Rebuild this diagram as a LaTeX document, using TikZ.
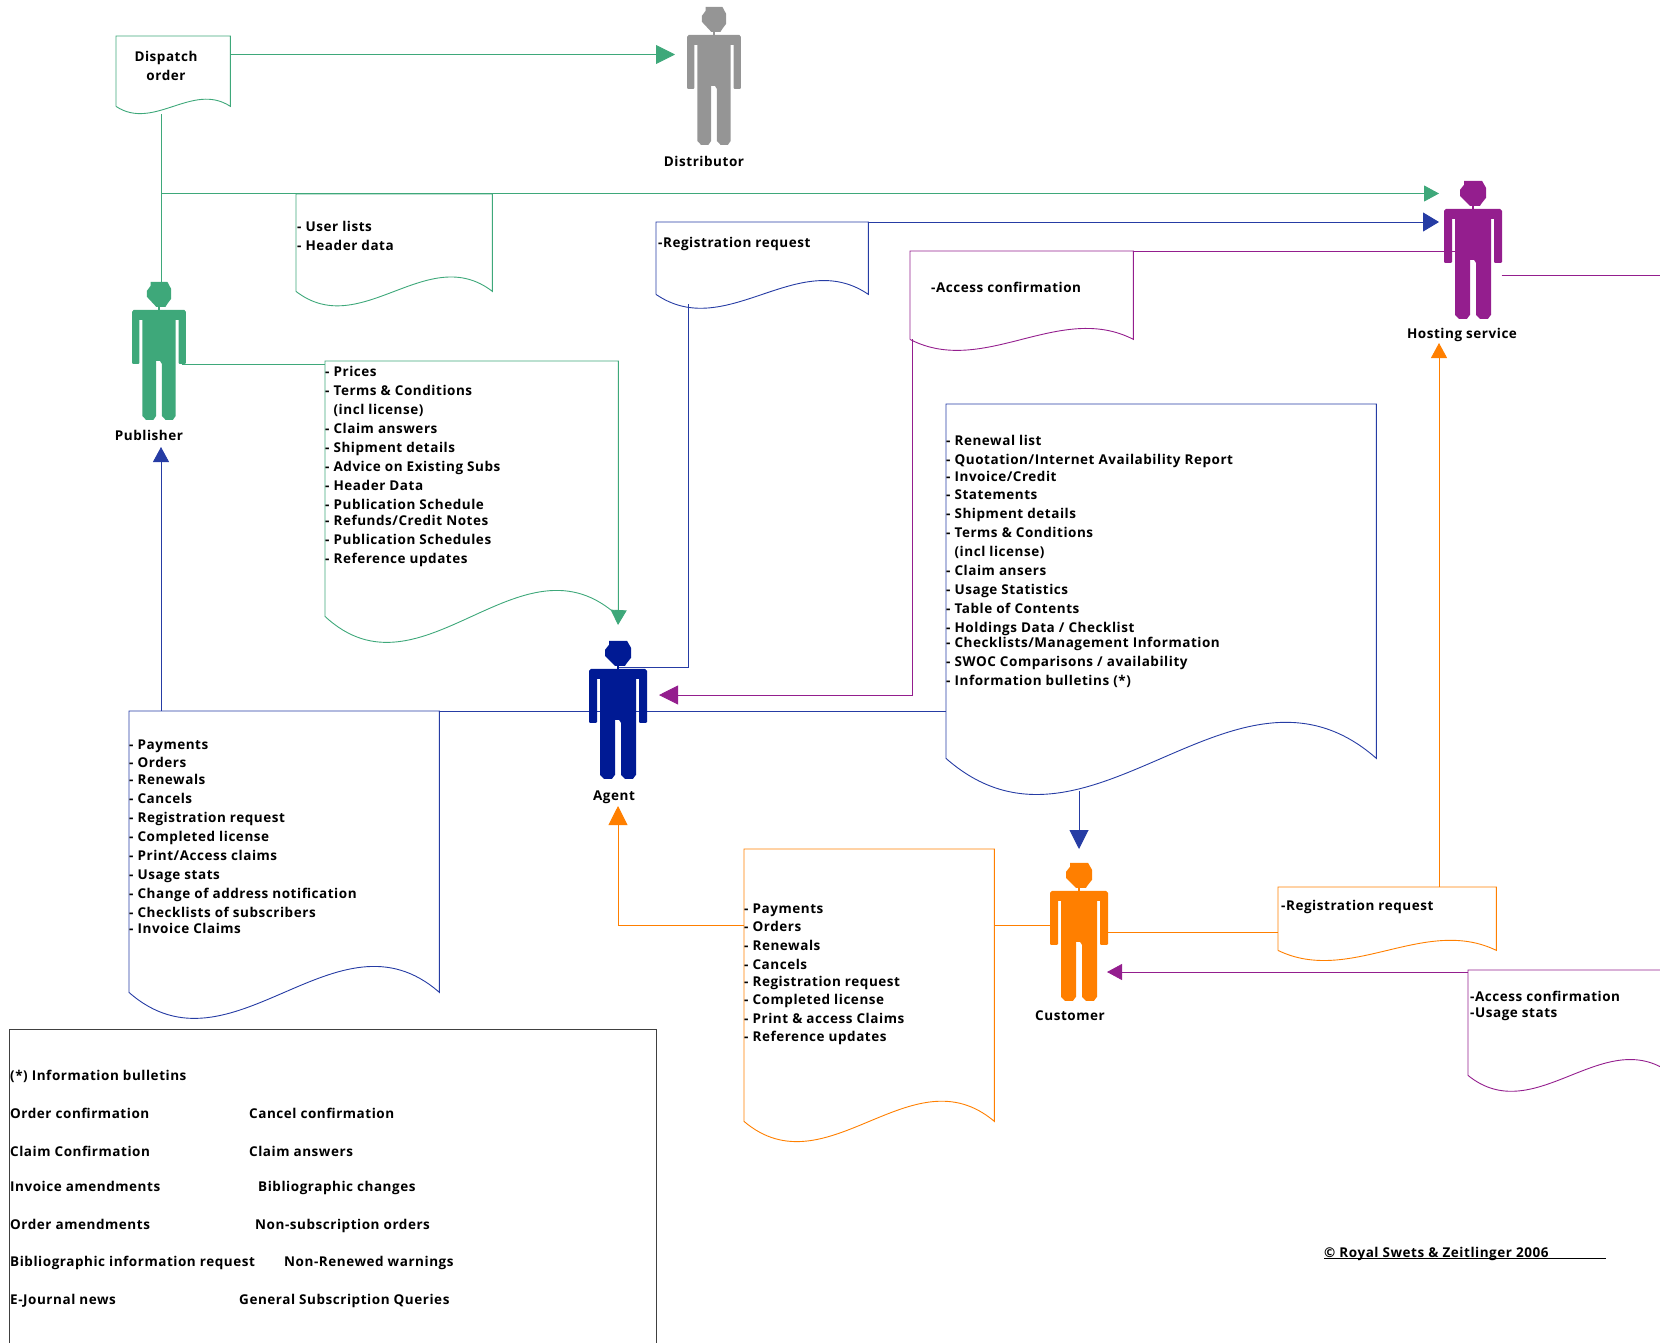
\documentclass[tikz,border=0pt]{standalone}
\usepackage{fontspec}
\setmainfont{Open Sans}[LetterSpace=4]
\usetikzlibrary{arrows.meta,calc}

\definecolor{pubgreen}{HTML}{3EA87A}
\definecolor{agentblue}{HTML}{001A94}
\definecolor{hostpurple}{HTML}{941E8E}
\definecolor{custorange}{HTML}{FF7F00}
\definecolor{distgray}{HTML}{959595}

\newcommand{\docwave}[3]{
    \draw[#2] (#1.south west) -- (#1.north west) -- (#1.north east) -- (#1.south east)
        .. controls ($(#1.south east)!.33!(#1.south west)+(0,-#3)$)
        and ($(#1.south east)!.67!(#1.south west)+(0,#3)$) .. (#1.south west);
}

\begin{document}
\begin{tikzpicture}[
    x=1pt, y=-1pt,
    docbox/.style={inner sep=0pt, anchor=north west},
    doctext/.style={inner sep=0pt, anchor=north west, align=left,
        font=\fontsize{13.5}{19}\selectfont\bfseries},
    legendtext/.style={inner sep=0pt, anchor=base west,
        font=\fontsize{13.5}{19}\selectfont\bfseries},
    label/.style={inner sep=0pt, align=center,
        font=\fontsize{13.5}{19}\selectfont\bfseries},
    personbox/.style={inner sep=0pt, minimum width=57pt, minimum height=138pt},
    greenline/.style={draw=pubgreen, line width=.9pt},
    blueline/.style={draw=agentblue!85!white, line width=.9pt},
    purpleline/.style={draw=hostpurple, line width=.9pt},
    orangeline/.style={draw=custorange, line width=.9pt},
    bigtip/.style={-{Triangle[length=19pt,width=19pt]}},
    midtip/.style={-{Triangle[length=16pt,width=19pt]}},
    smalltip/.style={-{Triangle[length=15pt,width=16pt]}},
    person/.pic={
        \fill[pic actions] (-9,0) -- (9,0) -- (13,7) -- (13,17) -- (9,22) -- (7,25)
            -- (-3,25) -- (-13,15) -- (-13,9) -- (-9,4) -- cycle;
        \fill[pic actions] (-1,24) rectangle (1,29);
        \fill[pic actions] (-27,28) -- (27,28) -- (29,30) -- (29,81) -- (28,82) -- (22,82)
            -- (21,81) -- (21,38) -- (18,38) -- (18,134) -- (15,138) -- (7,138)
            -- (3,134) -- (3,82) -- (1,79) -- (-3,79) -- (-3,134) -- (-6,138) -- (-14,138)
            -- (-18,134) -- (-18,38) -- (-21,38) -- (-21,81) -- (-22,82) -- (-28,82)
            -- (-29,81) -- (-29,30) -- cycle;
    }
]
    \clip (0,0) rectangle (1660,1342);

    \node[docbox, minimum width=114pt, minimum height=70pt] (dispatchdoc) at (116,36) {};
    \node[docbox, minimum width=196pt, minimum height=97pt] (userdoc) at (296,194) {};
    \node[docbox, minimum width=293pt, minimum height=255pt] (pubdoc) at (325,361) {};
    \node[docbox, minimum width=212pt, minimum height=72pt] (regdoc) at (656,222) {};
    \node[docbox, minimum width=223pt, minimum height=88pt] (accessdoc) at (910,251) {};
    \node[docbox, minimum width=430pt, minimum height=354pt] (renewdoc) at (946,404) {};
    \node[docbox, minimum width=310pt, minimum height=281pt] (paydoc) at (129,711) {};
    \node[docbox, minimum width=250pt, minimum height=272pt] (orderdoc) at (744,849) {};
    \node[docbox, minimum width=218pt, minimum height=63pt] (custregdoc) at (1278,887) {};
    \node[docbox, minimum width=205pt, minimum height=105pt] (usagedoc) at (1468,970) {};
    \node[docbox, draw=black!75, line width=.9pt, minimum width=647pt, minimum height=400pt] (legend) at (9,1029) {};

    \node[personbox] (distributor) at (714,76) {};
    \node[personbox] (publisher) at (159,351) {};
    \node[personbox] (hosting) at (1473,250) {};
    \node[personbox] (agent) at (618,710) {};
    \node[personbox] (customer) at (1079,932) {};

    \coordinate (disttip) at (675,54.5);
    \coordinate (hostgreentip) at (1439,193.5);
    \coordinate (hostbluetip) at (1439,222);
    \coordinate (pubtip) at (161,447);
    \coordinate (agentgreentip) at (618,625);
    \coordinate (agentpurpletip) at (659,695);
    \coordinate (agentorangetip) at (618,806);
    \coordinate (custbluetip) at (1079,849);
    \coordinate (custpurpletip) at (1107,972);
    \coordinate (hostorangetip) at (1439,343);
    \coordinate (offpage) at (1660,275);

    \docwave{dispatchdoc}{greenline}{25}
    \docwave{userdoc}{greenline}{50}
    \docwave{pubdoc}{greenline}{90}
    \docwave{regdoc}{blueline}{48}
    \docwave{accessdoc}{purpleline}{38}
    \docwave{renewdoc}{blueline}{125}
    \docwave{paydoc}{blueline}{90}
    \docwave{orderdoc}{orangeline}{70}
    \docwave{custregdoc}{orangeline}{35}
    \docwave{usagedoc}{purpleline}{55}

    \draw[greenline, bigtip] (dispatchdoc.north east |- disttip) -- (disttip);
    \draw[greenline] (dispatchdoc.south west -| publisher.center) ++(2,8) -- (161,282);
    \draw[greenline, smalltip] (161,193.5) -- (hostgreentip);
    \draw[greenline] ([xshift=-6pt]publisher.east |- 0,364) -- (pubdoc.north west |- 0,364);
    \draw[greenline, smalltip] (pubdoc.south east) -- (agentgreentip);

    \draw[blueline, smalltip] (pubtip |- paydoc.north) -- (pubtip);
    \draw[blueline] (paydoc.north east) -- (renewdoc.west |- paydoc.north);
    \draw[blueline, midtip] (regdoc.north east) -- (hostbluetip);
    \draw[blueline] (688,304) |- (agent.north |- 0,667);
    \draw[blueline, bigtip] (custbluetip |- 0,791) -- (custbluetip);

    \draw[purpleline] (accessdoc.north east) -- (hosting.center |- accessdoc.north);
    \draw[purpleline, bigtip] (accessdoc.south west) ++(2,0) |- (agentpurpletip);
    \draw[purpleline] (hosting.east |- offpage) -- (offpage);
    \draw[purpleline, smalltip] (usagedoc.north west |- custpurpletip) -- (custpurpletip);

    \draw[orangeline] (orderdoc.east |- 0,925) -- (customer.west |- 0,925);
    \draw[orangeline, bigtip] (orderdoc.west |- 0,925) -| (agentorangetip);
    \draw[orangeline] (customer.east |- 0,932) -- (custregdoc.west |- 0,932);
    \draw[orangeline, smalltip] (hostorangetip |- custregdoc.north) -- (hostorangetip);

    \pic[fill=distgray, xscale=.93] at (distributor.north) {person};
    \pic[fill=pubgreen, xscale=.93] at (publisher.north) {person};
    \pic[fill=hostpurple] at (hosting.north) {person};
    \pic[fill=agentblue] at (agent.north) {person};
    \pic[fill=custorange] at (customer.north) {person};

    \node[label] (distlabel) at (704,161) {Distributor};
    \node[label] (publabel) at (149,435) {Publisher};
    \node[label] (hostlabel) at (1462,335) {Hosting service};
    \node[label] (agentlabel) at (614,797) {Agent};
    \node[label] (custlabel) at (1070,1016) {Customer};

    \node[label] (dispatchtext) at (166,66) {Dispatch\\order};
    \node[doctext] (usertext) at (297,221) {- User lists\\- Header data};
    \node[doctext] (pubtext) at (325,366) {- Prices\\- Terms \& Conditions\\\phantom{- }(incl license)\\- Claim answers\\- Shipment details\\- Advice on Existing Subs\\- Header Data\\- Publication Schedule\\[-3pt]- Refunds/Credit Notes\\- Publication Schedules\\- Reference updates};
    \node[doctext] (regtext) at (658,237) {-Registration request};
    \node[doctext] (accesstext) at (931,282) {-Access confirmation};
    \node[doctext] (renewtext) at (946,435) {- Renewal list\\- Quotation/Internet Availability Report\\[-2pt]- Invoice/Credit\\[-1pt]- Statements\\- Shipment details\\- Terms \& Conditions\\\phantom{- }(incl license)\\- Claim ansers\\- Usage Statistics\\- Table of Contents\\- Holdings Data / Checklist\\[-4pt]- Checklists/Management Information\\- SWOC Comparisons / availability\\- Information bulletins (*)};
    \node[doctext] (paytext) at (129,740) {- Payments\\[-1pt]- Orders\\[-2pt]- Renewals\\- Cancels\\- Registration request\\- Completed license\\- Print/Access claims\\- Usage stats\\- Change of address notification\\- Checklists of subscribers\\[-3pt]- Invoice Claims};
    \node[doctext] (ordertext) at (744,904) {- Payments\\[-1pt]- Orders\\- Renewals\\- Cancels\\[-2pt]- Registration request\\[-1pt]- Completed license\\- Print \& access Claims\\[-1pt]- Reference updates};
    \node[doctext] (custregtext) at (1281,900) {-Registration request};
    \node[doctext] (usagetext) at (1470,991) {-Access confirmation\\[-3pt]-Usage stats};

    \node[legendtext] (infohead) at (10,1080) {(*) Information bulletins};
    \node[legendtext] (orderconf) at (10,1118) {Order confirmation};
    \node[legendtext] (cancelconf) at (249,1118) {Cancel confirmation};
    \node[legendtext] (claimconf) at (10,1156) {Claim Confirmation};
    \node[legendtext] (claimans) at (249,1156) {Claim answers};
    \node[legendtext] (invoiceam) at (10,1191) {Invoice amendments};
    \node[legendtext] (bibchange) at (258,1191) {Bibliographic changes};
    \node[legendtext] (orderam) at (10,1229) {Order amendments};
    \node[legendtext] (nonsub) at (255,1229) {Non-subscription orders};
    \node[legendtext] (bibreq) at (10,1266) {Bibliographic information request};
    \node[legendtext] (nonrenew) at (284,1266) {Non-Renewed warnings};
    \node[legendtext] (ejournal) at (10,1304) {E-Journal news};
    \node[legendtext] (genquery) at (239,1304) {General Subscription Queries};

    \node[legendtext] (copyright) at (1324,1257) {© Royal Swets \& Zeitlinger 2006};
    \coordinate (copyend) at (1606,1258);
    \draw[line width=.7pt] (copyright.west |- copyend) -- (copyend);
\end{tikzpicture}
\end{document}
